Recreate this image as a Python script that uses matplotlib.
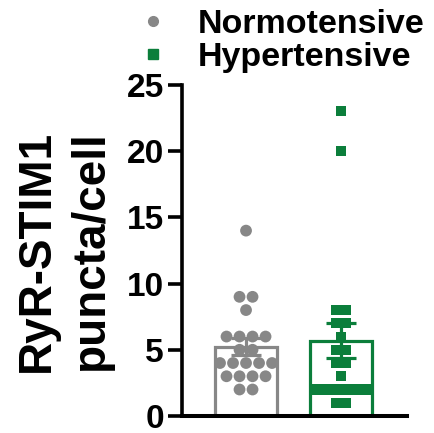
import numpy as np
import matplotlib
matplotlib.use("Agg")
import matplotlib.pyplot as plt
from matplotlib.lines import Line2D

plt.rcParams['font.family'] = ['Liberation Sans', 'DejaVu Sans']
plt.rcParams['font.weight'] = 'bold'

# data
groups = ["Normotensive", "Hypertensive"]
normo = [14, 9, 9, 8, 6, 6, 6, 6, 5, 5, 4, 4, 4, 4, 4, 3, 3, 3, 3, 2, 2]
hyper = [23, 20, 8, 8, 7, 7, 6, 5, 5, 4, 4, 3, 2, 2, 2, 2, 2, 2, 1, 1]
yticks = [0, 5, 10, 15, 20, 25]

gray = '#878787'
green = '#0b7e3b'
colors = [gray, green]
markers = ['o', 's']
msize = [72, 52]
spacing = [0.137, 0.107]   # horizontal step between neighbours in a row


def swarm_x(vals, center, step):
    # spread equal values side by side around the bar centre
    vals = np.asarray(vals)
    xs = np.zeros(len(vals))
    for v in np.unique(vals):
        idx = np.where(vals == v)[0]
        n = len(idx)
        xs[idx] = center + (np.arange(n) - (n - 1) / 2) * step
    return xs


fig = plt.figure(figsize=(4.34, 4.33), dpi=100)
ax = fig.add_axes([0.4194, 0.0393, 0.5184, 0.7644])

for i, vals in enumerate([normo, hyper]):
    vals = np.array(vals, dtype=float)
    m = vals.mean()
    sem = vals.std(ddof=1) / np.sqrt(len(vals))
    ax.bar(i, m, width=0.65, facecolor='white', edgecolor=colors[i],
           linewidth=2.3, zorder=1)
    ax.scatter(swarm_x(vals, i, spacing[i]), vals, s=msize[i], marker=markers[i],
               color=colors[i], edgecolors='none', zorder=3, clip_on=False)
    ax.errorbar(i, m, yerr=sem, color=colors[i], elinewidth=2.3, capsize=11,
                capthick=2.3, zorder=2)

ax.set_xlim(-0.674, 1.695)
ax.set_ylim(0, 25)
ax.set_yticks(yticks)
ax.set_xticks([])
for s in ['top', 'right']:
    ax.spines[s].set_visible(False)
ax.spines['left'].set_linewidth(2.6)
ax.spines['bottom'].set_linewidth(2.9)
ax.tick_params(axis='y', length=10, width=2.6, labelsize=24, pad=3)

ax.set_ylabel("RyR-STIM1\npuncta/cell", fontsize=33, fontweight='bold',
              linespacing=1.3, labelpad=10)

handles = [Line2D([], [], marker=markers[k], color=colors[k], linestyle='none',
                  markersize=7 if k == 0 else 6.5) for k in range(2)]
fig.legend(handles, groups, loc='upper left', bbox_to_anchor=(136 / 434, 424 / 433),
           frameon=False, handlelength=1.0, handletextpad=0.8,
           labelspacing=0.06, borderpad=0, borderaxespad=0.0,
           prop={'weight': 'bold', 'size': 24.5})

fig.savefig('out.png', dpi=100)
